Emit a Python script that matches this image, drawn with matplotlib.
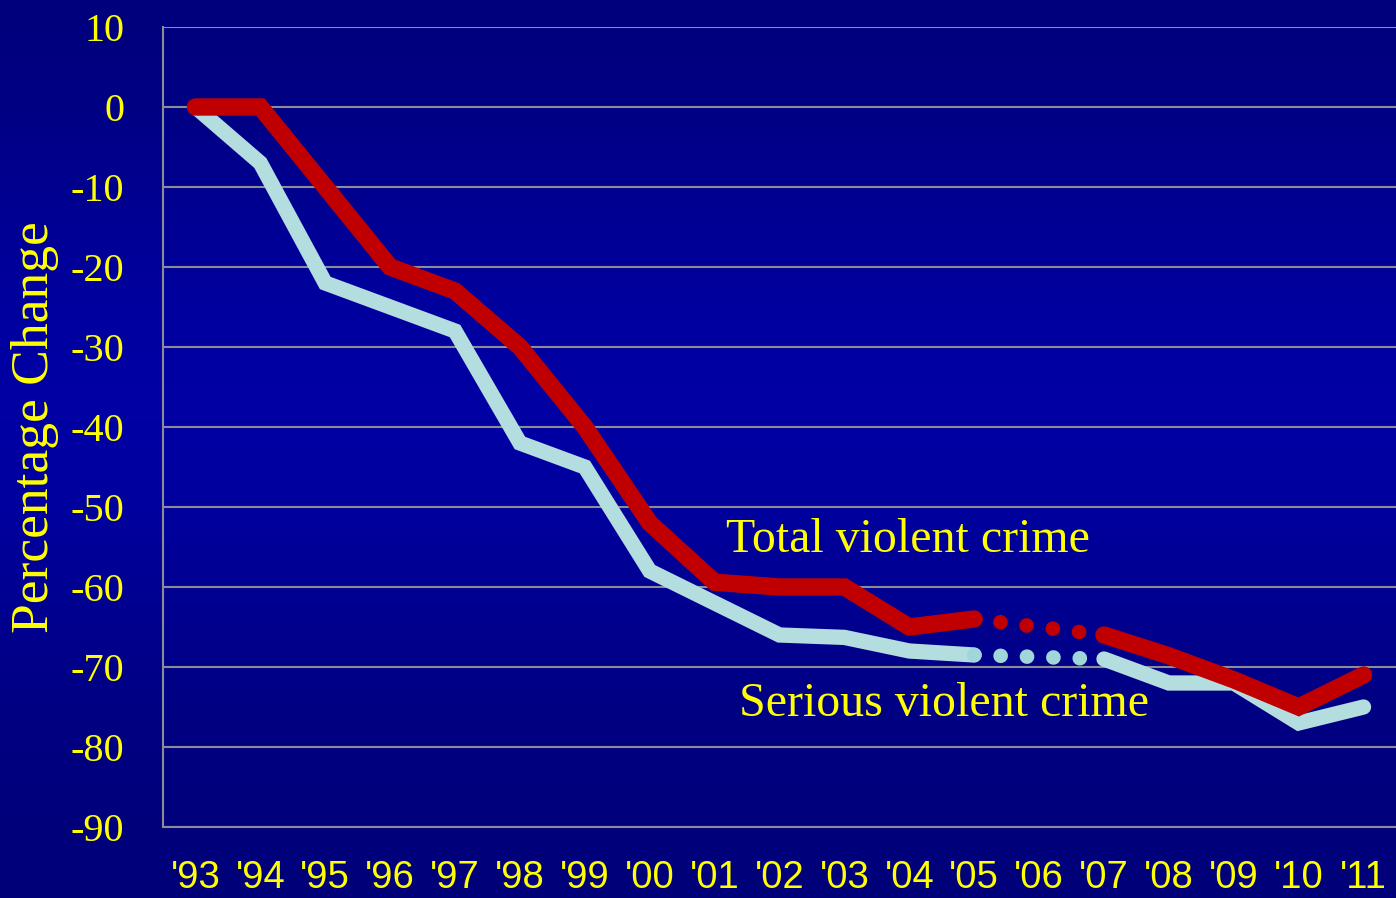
import numpy as np
import matplotlib
matplotlib.use('Agg')
import matplotlib.pyplot as plt

years = ["'93", "'94", "'95", "'96", "'97", "'98", "'99", "'00", "'01", "'02",
         "'03", "'04", "'05", "'06", "'07", "'08", "'09", "'10", "'11"]
# '06 has no value (shown as a dotted gap)
total = [0, 0, -10, -20, -23, -30, -40, -52, -59.4, -60, -60, -65, -64,
         np.nan, -66, -68.6, -71.6, -75, -71]
serious = [0, -7, -22, -25, -28, -42, -45, -58, -62, -66, -66.3, -68, -68.5,
           np.nan, -69, -72, -72, -77, -75]
yticks = [10, 0, -10, -20, -30, -40, -50, -60, -70, -80, -90]

red = '#C00000'
blue = '#B4DDE0'
yellow = '#FFFF00'

fig = plt.figure(figsize=(13.96, 8.98), dpi=100)

# gradient background
bg = fig.add_axes([0, 0, 1, 1])
t = np.linspace(0, 1, 256)
b = 0.47 + 0.17 * np.exp(-((t - 0.45) / 0.3) ** 2)
grad = np.zeros((256, 1, 3))
grad[:, 0, 2] = b
bg.imshow(grad, aspect='auto', extent=[0, 1, 0, 1])
bg.axis('off')

ax = fig.add_axes([163 / 1396, 1 - 827 / 898, 1233 / 1396, 800 / 898])
ax.patch.set_alpha(0)
x = np.arange(len(years))

ax.plot(x[:13], serious[:13], color=blue, lw=11, solid_capstyle='round', solid_joinstyle='miter', zorder=3)
ax.plot(x[14:], serious[14:], color=blue, lw=11, solid_capstyle='round', solid_joinstyle='miter', zorder=3)
ax.plot([12, 14], [serious[12], serious[14]], color='#A0D6DA', lw=10.5,
        dashes=(0.01, 1.8), dash_capstyle='round', zorder=3)

ax.plot(x[:13], total[:13], color=red, lw=12.5, solid_capstyle='round', solid_joinstyle='miter', zorder=4)
ax.plot(x[14:], total[14:], color=red, lw=12.5, solid_capstyle='round', solid_joinstyle='miter', zorder=4)
ax.plot([12, 14], [total[12], total[14]], color=red, lw=10.5,
        dashes=(0.01, 1.8), dash_capstyle='round', zorder=4)

ax.set_xlim(-0.5, 18.5)
ax.set_ylim(-90, 10)
ax.set_yticks(yticks)
ax.set_yticklabels([str(v) for v in yticks], color=yellow, family='Liberation Serif', fontsize=29)
ax.set_xticks(x)
ax.set_xticklabels(years, color=yellow, family='Liberation Sans', fontsize=27.5)
ax.tick_params(length=0, pad=28, axis='y')
ax.tick_params(length=0, pad=24, axis='x')
ax.yaxis.grid(True, color='#8C8C96', lw=1.5)
ax.set_axisbelow(True)
for s in ['top', 'right']:
    ax.spines[s].set_visible(False)
for s in ['left', 'bottom']:
    ax.spines[s].set_color('#8C8C96')
    ax.spines[s].set_linewidth(1.5)

fig.text(35 / 1396, 1 - 427 / 898, 'Percentage Change', rotation=90, color=yellow,
         family='Liberation Serif', fontsize=38.5, ha='center', va='center')

ax.text(8.17, -54.1, 'Total violent crime', color=yellow, family='Liberation Serif',
        fontsize=34.5, ha='left', va='center')
ax.text(8.37, -74.6, 'Serious violent crime', color=yellow, family='Liberation Serif',
        fontsize=34.5, ha='left', va='center')

fig.savefig('out.png', dpi=100)
